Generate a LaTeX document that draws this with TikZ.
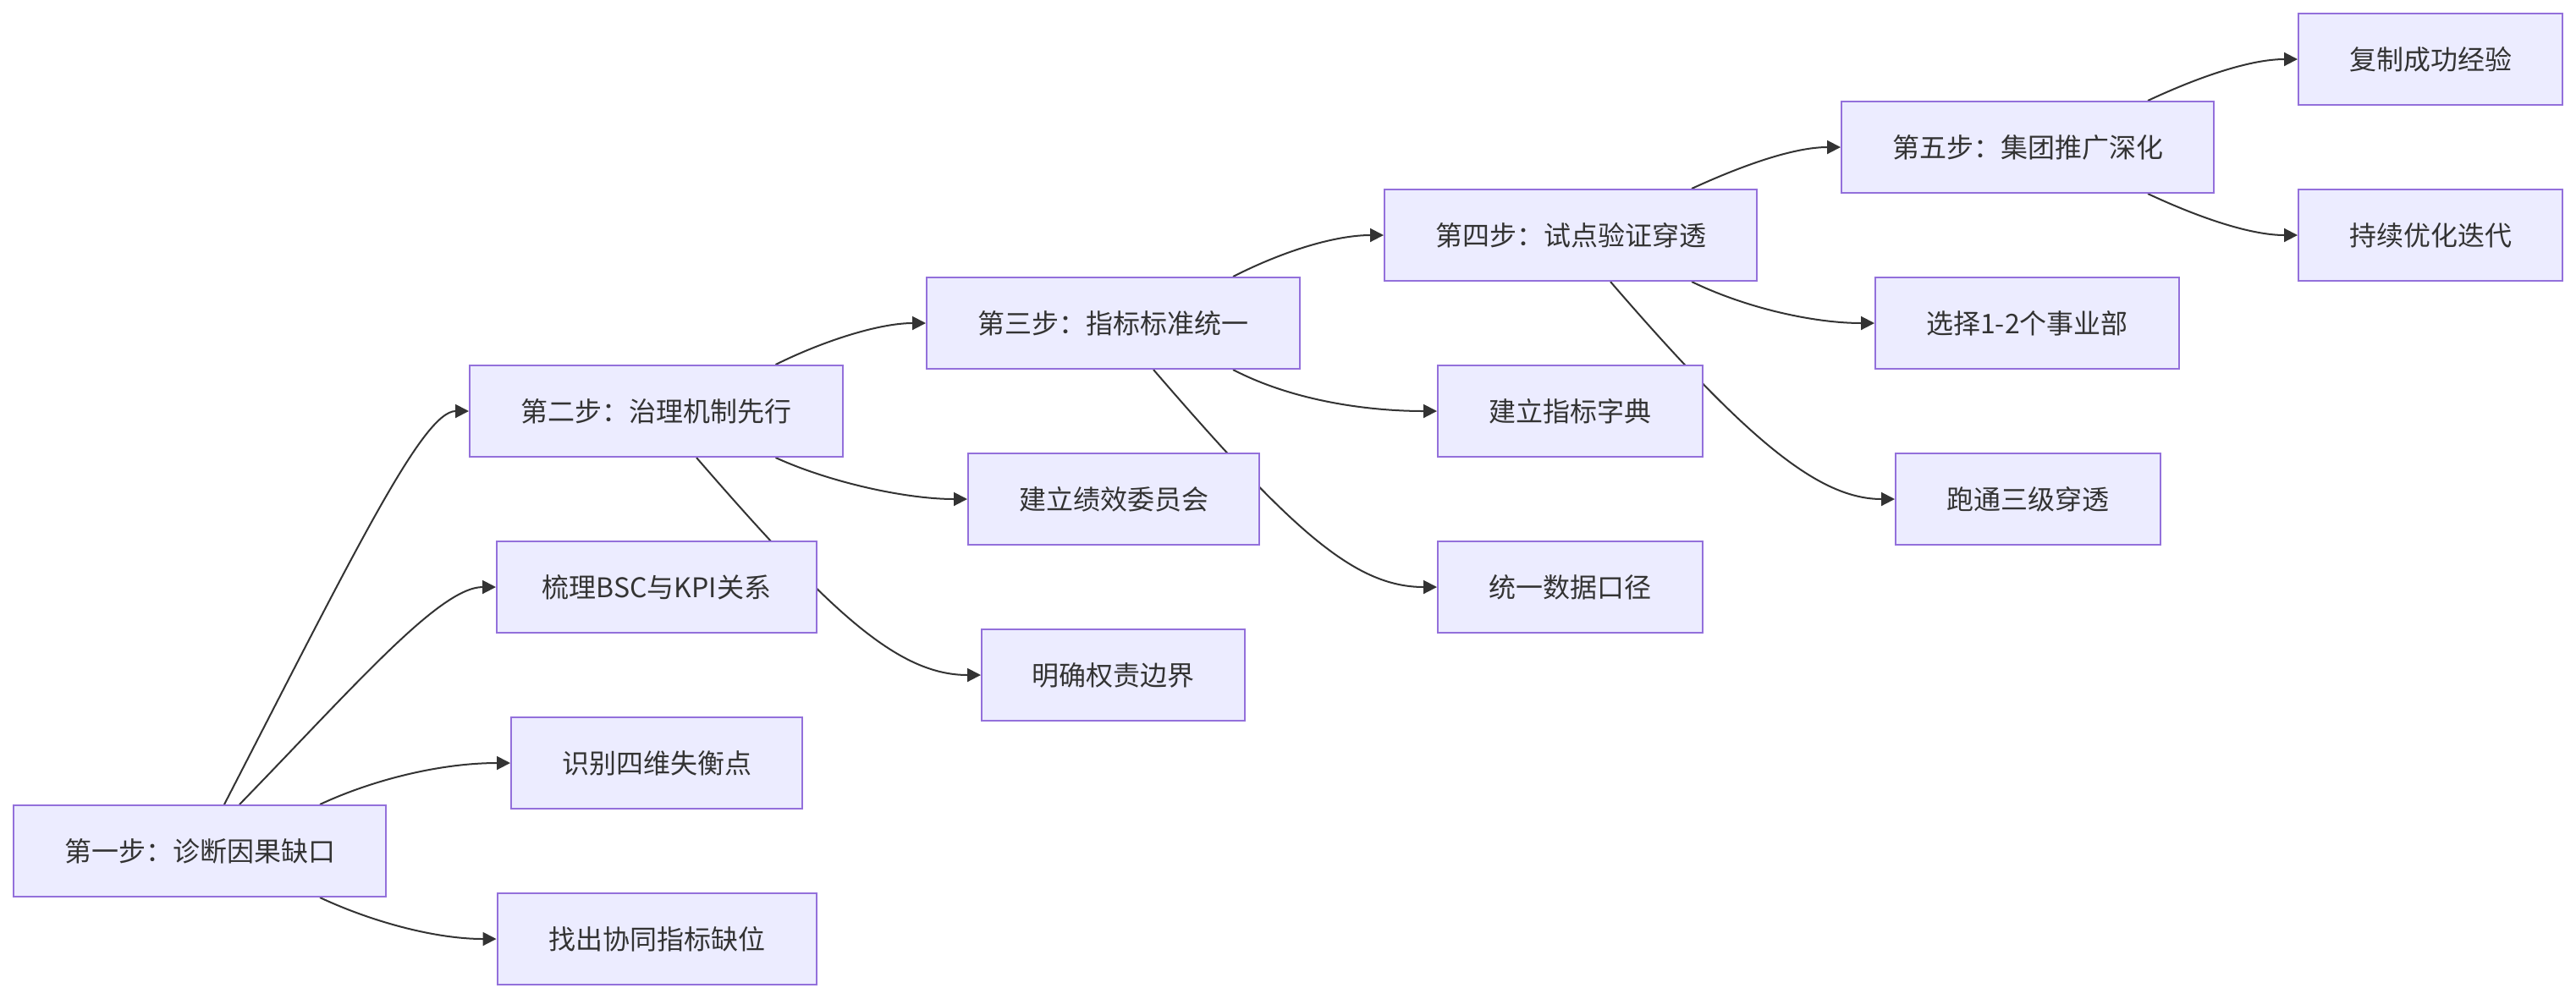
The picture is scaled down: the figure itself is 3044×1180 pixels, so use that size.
\documentclass[tikz,border=0pt]{standalone}
\usepackage{fontspec}
\setmainfont{Noto Sans CJK SC}
\usetikzlibrary{arrows.meta,calc,backgrounds}
\definecolor{mmborder}{HTML}{9370DB}
\definecolor{mmfill}{HTML}{ECECFF}
\definecolor{mmline}{HTML}{333333}
\definecolor{mmtext}{HTML}{333333}
\begin{document}
\begin{tikzpicture}[x=0.5pt,y=-0.5pt,
  box/.style={draw=mmborder,fill=mmfill,line width=1pt,minimum height=54pt,inner sep=0pt,text=mmtext,font=\fontsize{16pt}{19pt}\selectfont},
  link/.style={draw=mmline,line width=1pt,-{Triangle[length=8pt,width=8pt]}}]
\useasboundingbox (0,0) rectangle (3044,1180);
% column 1
\node[box,minimum width=220pt] (s1) at (236,1006) {第一步：诊断因果缺口};
% column 2
\node[box,minimum width=220.5pt] (s2) at (775.5,486) {第二步：治理机制先行};
\node[box,minimum width=189pt] (bsc) at (776,694) {梳理BSC与KPI关系};
\node[box,minimum width=172pt] (sb) at (776,902) {识别四维失衡点};
\node[box,minimum width=188.5pt] (zc) at (776,1110) {找出协同指标缺位};
% column 3
\node[box,minimum width=220.5pt] (s3) at (1315.5,382) {第三步：指标标准统一};
\node[box,minimum width=172pt] (wy) at (1316,590) {建立绩效委员会};
\node[box,minimum width=155.5pt] (mq) at (1315.5,798) {明确权责边界};
% column 4
\node[box,minimum width=220pt] (s4) at (1856,278) {第四步：试点验证穿透};
\node[box,minimum width=156.5pt] (zd) at (1855.5,486) {建立指标字典};
\node[box,minimum width=156.5pt] (ty) at (1855.5,694) {统一数据口径};
% column 5
\node[box,minimum width=220pt] (s5) at (2396,174) {第五步：集团推广深化};
\node[box,minimum width=179.5pt] (xz) at (2395.5,382) {选择1-2个事业部};
\node[box,minimum width=156.5pt] (pt) at (2396.5,590) {跑通三级穿透};
% column 6
\node[box,minimum width=156pt] (fz) at (2872,70) {复制成功经验};
\node[box,minimum width=156pt] (cx) at (2872,278) {持续优化迭代};

\begin{scope}[on background layer]
% from step 1
\draw[link] ($(s1.north)+(29,0)$) .. controls (420,650) and (500,486) .. (s2.west);
\draw[link] ($(s1.north)+(47,0)$) .. controls (420,810) and (520,694) .. (bsc.west);
\draw[link] ($(s1.north)+(142,0)$) .. controls (440,922) and (520,902) .. (sb.west);
\draw[link] ($(s1.south)+(142,0)$) .. controls (440,1090) and (515,1110) .. (zc.west);
% from step 2
\draw[link] ($(s2.north)+(141,0)$) .. controls (975,402) and (1040,382) .. (s3.west);
\draw[link] ($(s2.south)+(141,0)$) .. controls (980,570) and (1070,590) .. (wy.west);
\draw[link] ($(s2.south)+(47.5,0)$) .. controls (980,722) and (1060,798) .. (mq.west);
% from step 3
\draw[link] ($(s3.north)+(141.5,0)$) .. controls (1520,295) and (1580,278) .. (s4.west);
\draw[link] ($(s3.south)+(141.5,0)$) .. controls (1530,475) and (1620,486) .. (zd.west);
\draw[link] ($(s3.south)+(47.5,0)$) .. controls (1526,626) and (1600,694) .. (ty.west);
% from step 4
\draw[link] ($(s4.north)+(143,0)$) .. controls (2060,195) and (2120,174) .. (s5.west);
\draw[link] ($(s4.south)+(143,0)$) .. controls (2065,365) and (2145,382) .. (xz.west);
\draw[link] ($(s4.south)+(47,0)$) .. controls (2066,522) and (2150,590) .. (pt.west);
% from step 5
\draw[link] ($(s5.north)+(142,0)$) .. controls (2600,90) and (2660,70) .. (fz.west);
\draw[link] ($(s5.south)+(142,0)$) .. controls (2600,258) and (2660,278) .. (cx.west);
\end{scope}
\end{tikzpicture}
\end{document}
